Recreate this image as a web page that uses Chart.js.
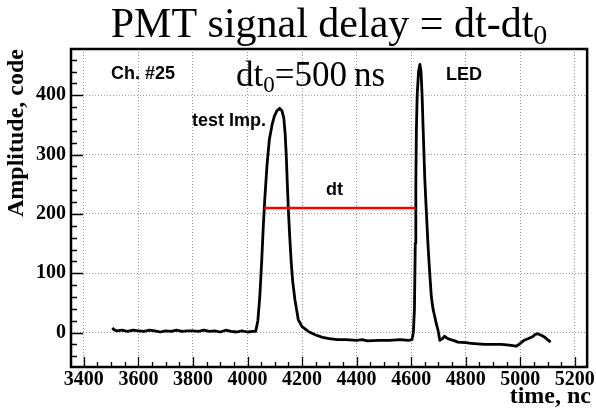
<!DOCTYPE html>
<html>
<head>
<meta charset="utf-8">
<script src="https://cdn.jsdelivr.net/npm/chart.js@4.4.1/dist/chart.umd.min.js"></script>
<style>
html,body{margin:0;padding:0;background:#fff;}
#wrap{width:596px;height:408px;position:relative;}
</style>
</head>
<body>
<div id="wrap"><canvas id="c" width="596" height="408"></canvas></div>
<script>
// ---- data ----
const times = [3505,3510,3520,3540,3560,3580,3600,3620,3640,3660,3680,3700,3720,3740,3760,3780,3800,3820,3840,3860,3880,3900,3920,3940,3960,3980,4000,4020,4030,
  4038,4045,4052,4058,4064,4072,4080,4090,4098,4108,4118,4126,4133,4138,4142,4146,4150,4155,4160,4166,4174,4186,4200,4223,4250,4275,4300,4330,4360,4400,4420,4440,4480,4520,4560,4590,4603,
  4608,4612,4615,4617,4619,4622,4627,4632,4636,4640,4644,4650,4656,4662,4668,4674,4680,4686,4692,4698,4705,4715,4722,4730,4745,4760,4771,4800,4820,4844,4870,4900,4930,4960,4984,4995,5014,5030,5045,5055,5063,5075,5090,5100,5111];
const amps = [8,5,3,4,2,4,3,2,4,3,1,3,2,4,2,3,3,2,4,2,3,1,4,2,1,3,1,2,2,
  20,60,120,180,230,285,325,350,364,374,378,374,362,335,300,250,205,160,120,85,55,22,10,2,-4,-8,-10,-12,-12,-13,-12,-14,-13,-13,-12,-13,-12,
  0,40,150,250,340,400,440,452,440,400,342,258,200,145,100,60,40,28,15,5,-13,-10,-6,-9,-12,-14,-16,-17,-18,-19,-20,-20,-20,-21,-23,-20,-13,-10,-7,-3,-2,-4,-8,-12,-16];
const dtTimes = [4061, 4616];
const dtAmps = [210, 210];
const xTickValues = [3400,3600,3800,4000,4200,4400,4600,4800,5000,5200];
const yTickValues = [0,100,200,300,400];
const titleText = "PMT signal delay = dt-dt";
const titleSub = "0";
const yTitle = "Amplitude, code";
const xTitle = "time, nc";

const serif = "'Liberation Serif','Times New Roman',serif";
const sans = "'Liberation Sans',Arial,sans-serif";

function subText(ctx, x, y, main, sub, size, subSize, subDrop, align, tail) {
  ctx.save();
  ctx.font = size + "px " + serif;
  const w1 = ctx.measureText(main).width;
  ctx.font = subSize + "px " + serif;
  const w2 = ctx.measureText(sub).width;
  ctx.font = size + "px " + serif;
  const w3 = tail ? ctx.measureText(tail).width : 0;
  const total = w1 + w2 + w3;
  let x0 = x;
  if (align === 'center') x0 = x - total / 2;
  ctx.fillStyle = '#000';
  ctx.textBaseline = 'alphabetic';
  ctx.textAlign = 'left';
  ctx.fillText(main, x0, y);
  ctx.font = subSize + "px " + serif;
  ctx.fillText(sub, x0 + w1, y + subDrop);
  if (tail) { ctx.font = size + "px " + serif; ctx.fillText(tail, x0 + w1 + w2, y); }
  ctx.restore();
}

const decor = {
  id: 'decor',
  afterDatasetsDraw(chart) {
    const {ctx, chartArea: a, scales: {x, y}} = chart;
    ctx.save();
    ctx.strokeStyle = '#000';
    ctx.lineWidth = 1.3;
    ctx.beginPath();
    for (let v = -40; v <= 460; v += 20) {
      const py = Math.round(y.getPixelForValue(v)) + 0.5;
      const len = (v % 100 === 0) ? 12 : 6;
      ctx.moveTo(a.left, py); ctx.lineTo(a.left + len, py);
    }
    for (let v = 3400; v <= 5200; v += 50) {
      const px = Math.round(x.getPixelForValue(v)) + 0.5;
      const len = (v % 200 === 0) ? 10 : 5;
      ctx.moveTo(px, a.bottom); ctx.lineTo(px, a.bottom - len);
    }
    ctx.stroke();
    ctx.lineWidth = 2.5;
    ctx.strokeRect(a.left, a.top, a.right - a.left, a.bottom - a.top);
    // texts
    ctx.fillStyle = '#000';
    ctx.textBaseline = 'alphabetic';
    ctx.font = "bold 18px " + sans;
    ctx.textAlign = 'left';
    ctx.fillText("Ch. #25", 111, 79);
    ctx.fillText("LED", 446, 80);
    ctx.fillText("dt", 326, 195);
    ctx.textAlign = 'right';
    ctx.fillText("test Imp.", 266, 126);
    ctx.textAlign = 'right';
    ctx.font = "bold 24px " + serif;
    ctx.fillText(xTitle, 591, 403);
    ctx.restore();
    subText(ctx, 236, 86, "dt", "0", 35, 23, 6, 'left', "=500\u2009ns");
    subText(ctx, 329, 37, titleText, titleSub, 42, 28, 7, 'center', "");
  }
};

new Chart(document.getElementById('c'), {
  type: 'line',
  data: {
    datasets: [
      { data: dtTimes.map((t, i) => ({x: t, y: dtAmps[i]})), borderColor: '#ff0000', borderWidth: 2.5, pointRadius: 0, tension: 0 },
      { data: times.map((t, i) => ({x: t, y: amps[i]})), borderColor: '#000', borderWidth: 2.8, pointRadius: 0, tension: 0, borderJoinStyle: 'round' }
    ]
  },
  options: {
    responsive: false,
    animation: false,
    devicePixelRatio: 1,
    layout: { padding: { top: 49, right: 6, bottom: 0, left: 0 } },
    plugins: { legend: { display: false }, title: { display: false }, tooltip: { enabled: false } },
    scales: {
      x: {
        type: 'linear', min: 3353, max: 5245,
        afterBuildTicks: s => { s.ticks = xTickValues.map(v => ({value: v})); },
        afterFit: s => { s.height = 41; },
        ticks: { autoSkip: false, maxRotation: 0, padding: 1, color: '#000', font: { family: serif, size: 20, weight: 'bold' }, callback: v => String(v) },
        grid: { color: '#999', lineWidth: 1, drawTicks: false },
        border: { display: false, dash: [1, 2] },
        title: { display: false }
      },
      y: {
        type: 'linear', min: -58, max: 478,
        afterBuildTicks: s => { s.ticks = yTickValues.map(v => ({value: v})); },
        afterFit: s => { s.width = 71; },
        ticks: { padding: 5, color: '#000', font: { family: serif, size: 20, weight: 'bold' }, callback: v => String(v) },
        grid: { color: '#999', lineWidth: 1, drawTicks: false },
        border: { display: false, dash: [1, 2] },
        title: { display: true, text: yTitle, align: 'end', color: '#000', font: { family: serif, size: 24, weight: 'bold', lineHeight: 1 }, padding: { top: 5, bottom: 0 } }
      }
    }
  },
  plugins: [decor]
});
</script>
</body>
</html>
